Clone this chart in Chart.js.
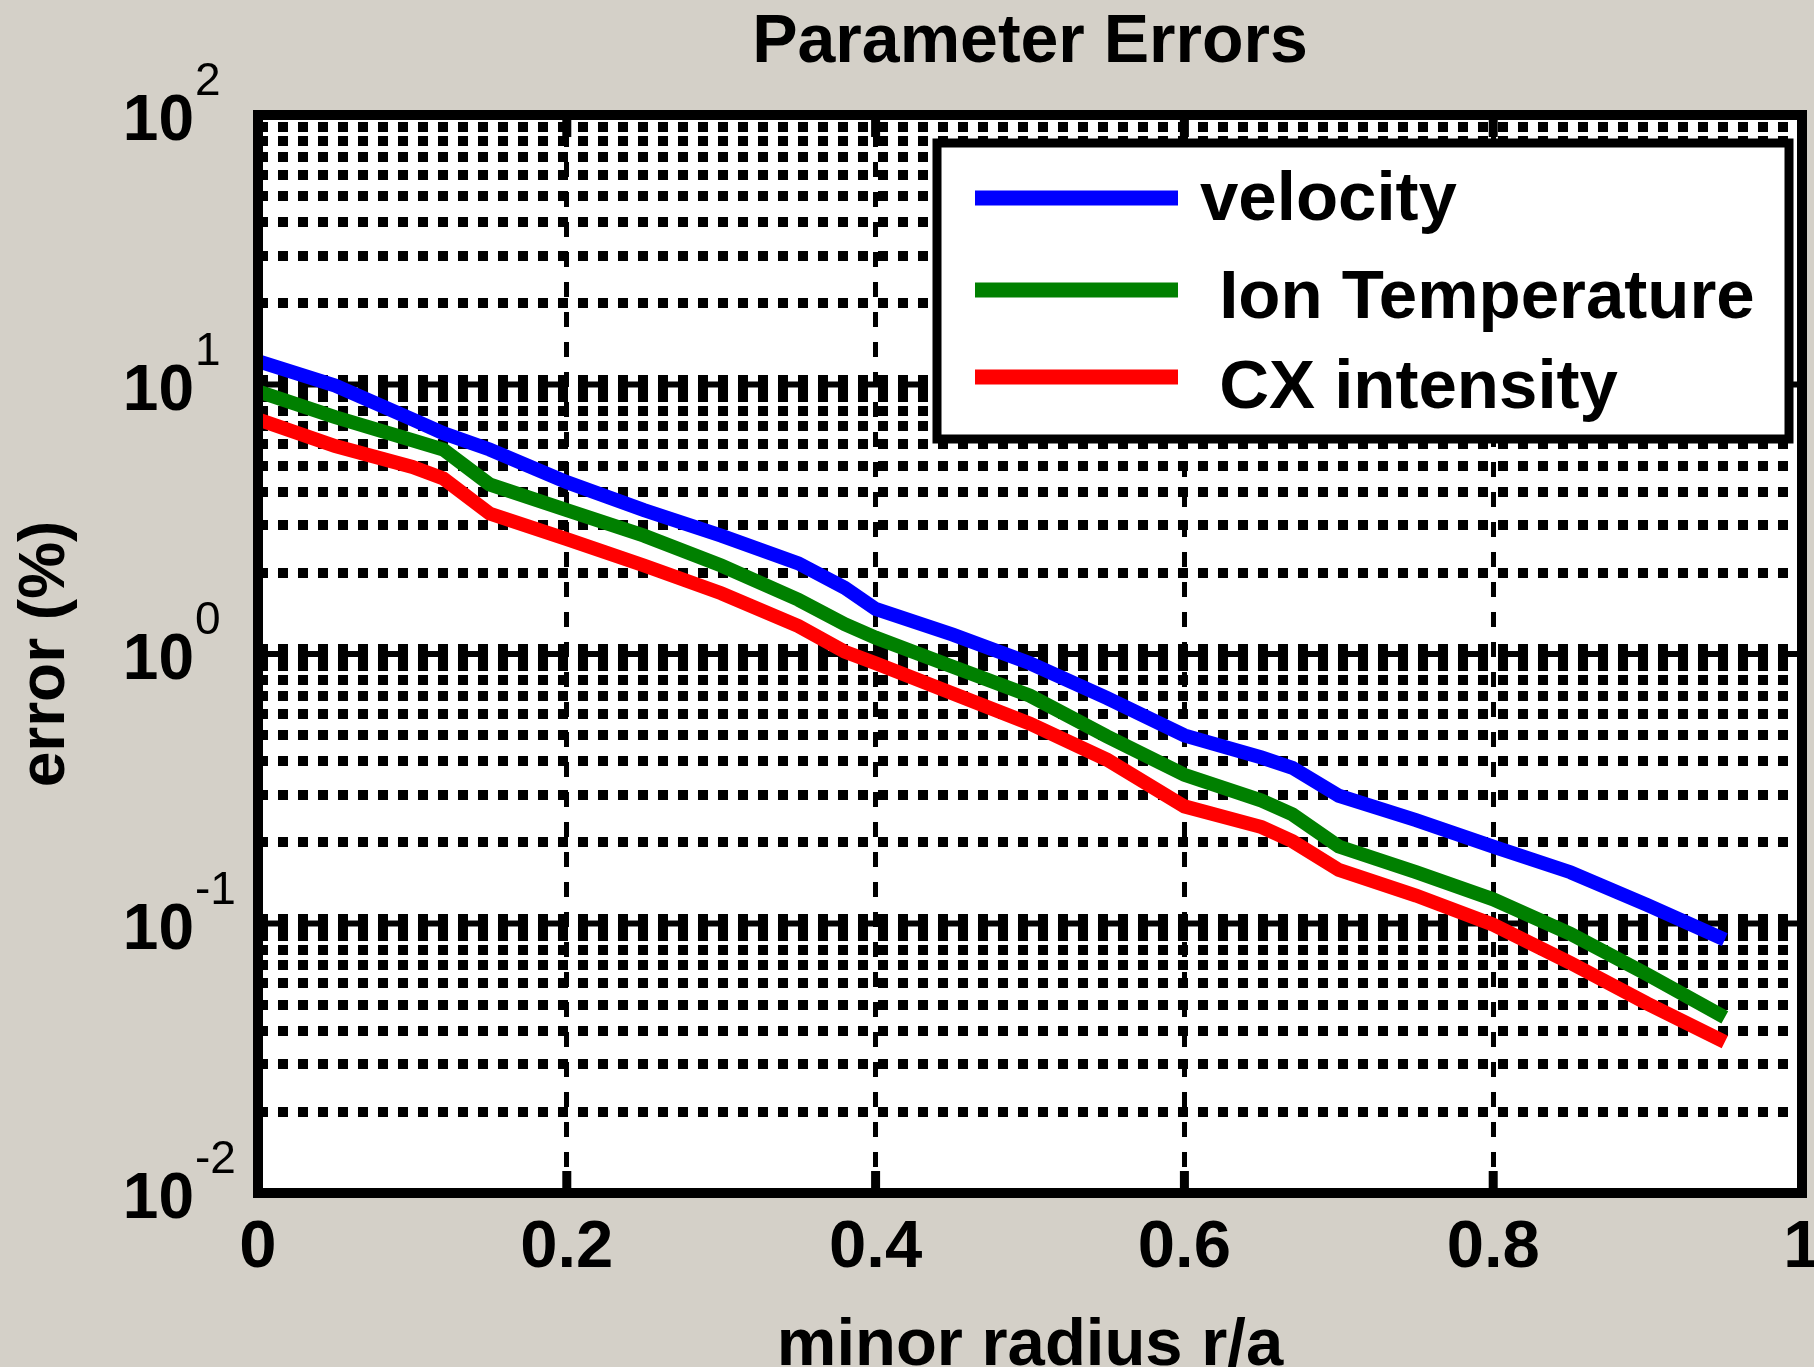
<!DOCTYPE html>
<html>
<head>
<meta charset="utf-8">
<title>Parameter Errors</title>
<script src="https://cdn.jsdelivr.net/npm/chart.js@4.4.1/dist/chart.umd.min.js"></script>
<style>
    html, body { margin: 0; padding: 0; background: #d4d0c8; }
    #wrap { width: 1814px; height: 1367px; }
</style>
</head>
<body>
<div id="wrap"><canvas id="errorChart" width="1814" height="1367"></canvas></div>
<script>
// minor radius r/a where the errors were sampled
const radius   = [0, 0.05, 0.1, 0.12, 0.15, 0.2, 0.25, 0.3, 0.35, 0.38, 0.4, 0.45, 0.5, 0.55, 0.6, 0.65, 0.67, 0.7, 0.75, 0.8, 0.85, 0.9, 0.95];
// error (%) per parameter
const velocity = [12.2, 9.9, 7.42, 6.6, 5.74, 4.34, 3.42, 2.75, 2.17, 1.76, 1.47, 1.18, 0.924, 0.686, 0.499, 0.413, 0.378, 0.298, 0.242, 0.193, 0.155, 0.117, 0.0871];
const ionTemp  = [9.42, 7.57, 6.21, 5.74, 4.26, 3.42, 2.75, 2.13, 1.59, 1.29, 1.15, 0.897, 0.700, 0.494, 0.356, 0.286, 0.254, 0.193, 0.155, 0.123, 0.0915, 0.0646, 0.0448];
const cxInt    = [7.42, 5.91, 4.94, 4.48, 3.32, 2.67, 2.13, 1.68, 1.27, 1.02, 0.924, 0.714, 0.551, 0.405, 0.272, 0.228, 0.202, 0.158, 0.127, 0.0990, 0.0714, 0.0504, 0.0363];

const seriesLabels = ['velocity', ' Ion Temperature', ' CX intensity'];
const seriesColors = ['#0000ff', '#008000', '#ff0000'];

const xTickValues = [0, 0.2, 0.4, 0.6, 0.8, 1];
const xTickLabels = ['0', '0.2', '0.4', '0.6', '0.8', '1'];
const yDecades    = [100, 10, 1, 0.1, 0.01];
const yExponents  = ['2', '1', '0', '-1', '-2'];

const FONT = '"Liberation Sans", Arial, sans-serif';

// grid lines at 1..9 x each decade
const yGridValues = [];
[0.01, 0.1, 1, 10].forEach(d => {
    for (let k = 1; k <= 9; k++) yGridValues.push(+(k * d).toPrecision(3));
});
yGridValues.push(100);

function isDecade(v) {
    const l = Math.log10(v);
    return Math.abs(l - Math.round(l)) < 1e-9;
}
// decades inside the box (not on its edges)
function isInnerDecade(v) {
    return isDecade(v) && v > 0.01 && v < 100;
}

const matlabFrame = {
    id: 'matlabFrame',
    beforeDraw(chart) {
        const {ctx, chartArea: a} = chart;
        ctx.save();
        ctx.fillStyle = '#ffffff';
        ctx.fillRect(a.left, a.top, a.right - a.left, a.bottom - a.top);
        ctx.restore();
    },
    beforeDatasetsDraw(chart) {
        // the "H" look of the decade grid lines
        const {ctx, chartArea: a} = chart;
        const y = chart.scales.y;
        ctx.save();
        ctx.strokeStyle = '#000';
        ctx.lineWidth = 6;
        ctx.setLineDash([30, 10]);
        yDecades.filter(isInnerDecade).forEach(v => {
            const py = y.getPixelForValue(v);
            ctx.beginPath();
            ctx.moveTo(a.left, py);
            ctx.lineTo(a.right, py);
            ctx.stroke();
        });
        ctx.restore();
    },
    afterDraw(chart) {
        const {ctx, chartArea: a} = chart;
        const x = chart.scales.x;
        const y = chart.scales.y;
        ctx.save();

        // axes box
        ctx.strokeStyle = '#000';
        ctx.lineWidth = 10;
        ctx.strokeRect(a.left, a.top, a.right - a.left, a.bottom - a.top);

        // inward x ticks
        ctx.fillStyle = '#000';
        xTickValues.forEach(v => {
            const px = x.getPixelForValue(v);
            ctx.fillRect(px - 4.5, a.bottom - 22, 9, 22);
            ctx.fillRect(px - 4.5, a.top, 9, 22);
        });

        // y tick labels with exponents
        yDecades.forEach((v, i) => {
            const py = y.getPixelForValue(v);
            ctx.font = 'bold 64px ' + FONT;
            ctx.textAlign = 'right';
            ctx.textBaseline = 'alphabetic';
            ctx.fillText('10', 194, py + 25);
            ctx.font = '46px ' + FONT;
            ctx.textAlign = 'left';
            ctx.fillText(yExponents[i], 195, py - 20);
        });

        // legend
        ctx.fillStyle = '#ffffff';
        ctx.fillRect(937, 143, 852, 296);
        ctx.lineWidth = 9;
        ctx.strokeRect(937, 143, 852, 296);
        const rows = [198, 290, 377];
        const baselines = [220, 318, 408];
        chart.data.datasets.forEach((ds, i) => {
            ctx.strokeStyle = ds.borderColor;
            ctx.lineWidth = 15;
            ctx.beginPath();
            ctx.moveTo(975, rows[i]);
            ctx.lineTo(1178, rows[i]);
            ctx.stroke();
            ctx.fillStyle = '#000';
            ctx.font = 'bold 69px ' + FONT;
            ctx.textAlign = 'left';
            ctx.textBaseline = 'alphabetic';
            ctx.fillText(ds.label, 1200, baselines[i]);
        });
        ctx.restore();
    }
};

const series = [velocity, ionTemp, cxInt];
const ctx = document.getElementById('errorChart').getContext('2d');
const errorChart = new Chart(ctx, {
    type: 'line',
    data: {
        datasets: series.map((vals, i) => ({
            label: seriesLabels[i],
            data: radius.map((r, j) => ({x: r, y: vals[j]})),
            borderColor: seriesColors[i],
            backgroundColor: seriesColors[i],
            borderWidth: 14,
            pointRadius: 0,
            tension: 0,
            fill: false
        }))
    },
    options: {
        responsive: false,
        animation: false,
        layout: { padding: { left: 0, right: 12, top: 0, bottom: 0 } },
        plugins: {
            legend: { display: false },
            tooltip: { enabled: false },
            title: {
                display: true,
                text: 'Parameter Errors',
                color: '#000',
                fullSize: false,
                font: { family: FONT, size: 68, weight: 'bold', lineHeight: 1 },
                padding: { top: 9, bottom: 38 }
            }
        },
        scales: {
            x: {
                type: 'linear',
                min: 0,
                max: 1,
                afterBuildTicks: scale => { scale.ticks = xTickValues.map(v => ({value: v})); },
                afterFit: scale => { scale.height = 174; scale.paddingLeft = 0; scale.paddingRight = 0; },
                ticks: {
                    color: '#000',
                    padding: 15,
                    maxRotation: 0,
                    font: { family: FONT, size: 67, weight: 'bold' },
                    callback: (v, i) => xTickLabels[i]
                },
                grid: { color: '#000', lineWidth: 5, drawTicks: false },
                border: { display: false, dash: [15, 15], dashOffset: 13 },
                title: {
                    display: true,
                    text: 'minor radius r/a',
                    color: '#000',
                    font: { family: FONT, size: 67, weight: 'bold', lineHeight: 0.6 },
                    padding: { top: 3, bottom: 0 }
                }
            },
            y: {
                type: 'logarithmic',
                min: 0.01,
                max: 100,
                afterBuildTicks: scale => { scale.ticks = yGridValues.map(v => ({value: v, major: isDecade(v)})); },
                afterFit: scale => { scale.width = 258; scale.paddingTop = 0; scale.paddingBottom = 0; },
                ticks: { display: false },
                grid: {
                    color: '#000',
                    lineWidth: c => (c.tick && isInnerDecade(c.tick.value)) ? 20 : 10,
                    drawTicks: false
                },
                border: { display: false, dash: [10, 10] },
                title: {
                    display: true,
                    text: 'error (%)',
                    color: '#000',
                    font: { family: FONT, size: 64, weight: 'bold', lineHeight: 1 },
                    padding: { top: 14, bottom: 0 }
                }
            }
        }
    },
    plugins: [matlabFrame]
});
</script>
</body>
</html>
